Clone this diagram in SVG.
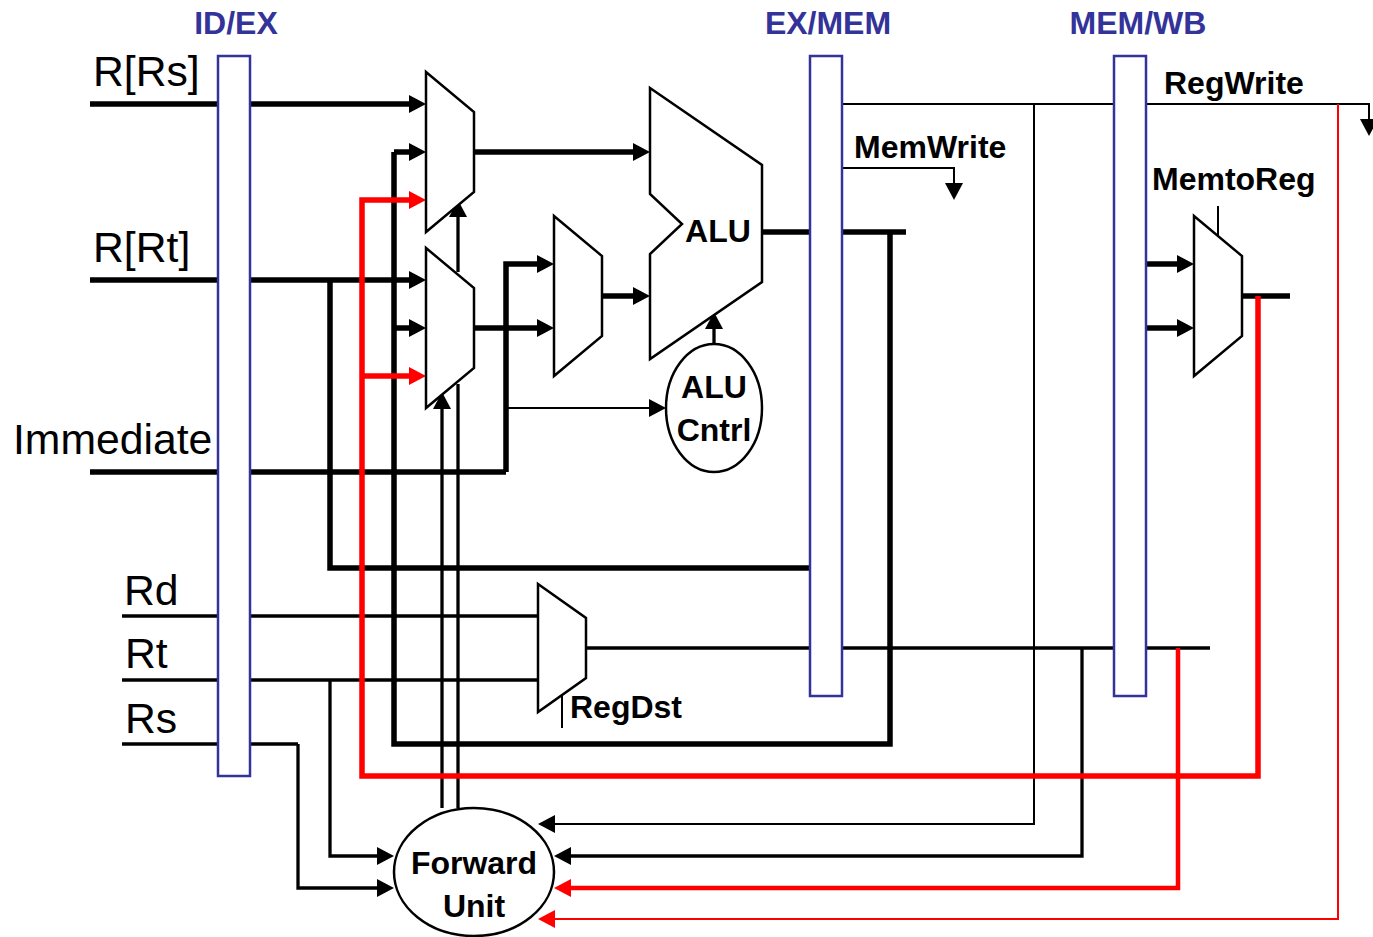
<svg xmlns="http://www.w3.org/2000/svg" width="1373" height="937" viewBox="0 0 1373 937">
<style>
text{font-family:"Liberation Sans",Arial,sans-serif}
.h{font-size:32px;font-weight:bold;fill:#333399;text-anchor:middle}
.l{font-size:42.7px;fill:#000}
.b{font-size:32px;font-weight:bold;fill:#000}
.c{text-anchor:middle}
.bar{fill:#fff;stroke:#333399;stroke-width:2.5}
.mux{fill:#fff;stroke:#000;stroke-width:2.5}
.w{fill:none;stroke:#000;stroke-linejoin:miter;stroke-linecap:butt}
.r{fill:none;stroke:#f00;stroke-linejoin:miter;stroke-linecap:butt}
.t5{stroke-width:5.5}
.t4{stroke-width:4.5}
.t3{stroke-width:3.3}
.t2{stroke-width:2}
.ak{marker-end:url(#ak)}
.ar{marker-end:url(#ar)}
</style>
<defs>
<marker id="ak" markerUnits="userSpaceOnUse" markerWidth="18" markerHeight="18" refX="6" refY="9" orient="auto"><path d="M0 0L17 9L0 18Z" fill="#000"/></marker>
<marker id="ar" markerUnits="userSpaceOnUse" markerWidth="18" markerHeight="18" refX="6" refY="9" orient="auto"><path d="M0 0L17 9L0 18Z" fill="#f00"/></marker>
</defs>
<g id="connectors">
<path class="w t5 ak" d="M90 104H415"/>
<path class="w t5" d="M90 280H330"/>
<path class="w t5 ak" d="M330 280H415"/>
<path class="w t5" d="M330 280V568H810"/>
<path class="w t5" d="M90 472H506"/>
<path class="w t5 ak" d="M506 472V264H543"/>
<path class="w t5 ak" d="M394 152H415"/>
<path class="w t5 ak" d="M394 328H415"/>
<path class="w t5" d="M394 152V744H890V232"/>
<path class="w t5 ak" d="M474 152H639"/>
<path class="w t5 ak" d="M474 328H543"/>
<path class="w t5 ak" d="M602 296H639"/>
<path class="w t5" d="M762 232H906"/>
<path class="w t3 ak" d="M458 272V211"/>
<path class="w t3 ak" d="M442 808V403"/>
<path class="w t3" d="M458 808V384"/>
<path class="w t2 ak" d="M508 408H655"/>
<path class="w t3 ak" d="M714 344V323"/>
<path class="w t3" d="M122 616H538"/>
<path class="w t3" d="M122 680H538"/>
<path class="w t3" d="M122 744H298"/>
<path class="w t3 ak" d="M298 744V888H383"/>
<path class="w t3 ak" d="M330 680V856H383"/>
<path class="w t3" d="M586 648H1210"/>
<path class="w t3 ak" d="M1082 648V856H565"/>
<path class="w t2 ak" d="M1034 104V824H549"/>
<path class="w t2 ak" d="M842 104H1369V125"/>
<path class="w t2 ak" d="M842 168H954V189"/>
<path class="w t2" d="M562 694V728"/>
<path class="w t2" d="M1218 206V236"/>
<path class="w t5 ak" d="M1146 264H1183"/>
<path class="w t5 ak" d="M1146 328H1183"/>
<path class="w t5" d="M1242 296H1290"/>
<path class="r t5 ar" d="M1258 296V776H362V200H415"/>
<path class="r t5 ar" d="M362 376H415"/>
<path class="r t4 ar" d="M1178 648V888H565"/>
<path class="r t2 ar" d="M1338 104V919H549"/>
</g>
<g id="id-ex"><rect class="bar" x="218" y="56" width="32" height="720"/><text class="h" x="236" y="34">ID/EX</text></g>
<g id="ex-mem"><rect class="bar" x="810" y="56" width="32" height="640"/><text class="h" x="828" y="34">EX/MEM</text></g>
<g id="mem-wb"><rect class="bar" x="1114" y="56" width="32" height="640"/><text class="h" x="1138" y="34">MEM/WB</text></g>
<g id="mux-a"><path class="mux" d="M426 72L474 112V192L426 232Z"/></g>
<g id="mux-b"><path class="mux" d="M426 248L474 288V368L426 408Z"/></g>
<g id="mux-c"><path class="mux" d="M554 216L602 256V336L554 376Z"/></g>
<g id="mux-regdst"><path class="mux" d="M538 584L586 618V678L538 712Z"/></g>
<g id="mux-memtoreg"><path class="mux" d="M1194 216L1242 256V336L1194 376Z"/></g>
<g id="alu"><path class="mux" d="M650 88L762 165V282L650 359V254L682 224L650 194Z"/><text class="b" x="718" y="242" text-anchor="middle">ALU</text></g>
<g id="alu-cntrl"><ellipse class="mux" cx="714" cy="408" rx="48" ry="64"/><text class="b c" x="714" y="398">ALU</text><text class="b c" x="714" y="441">Cntrl</text></g>
<g id="forward-unit"><ellipse class="mux" cx="474" cy="872" rx="80" ry="64"/><text class="b c" x="474" y="874">Forward</text><text class="b c" x="474" y="917">Unit</text></g>
<g id="labels">
<text class="l" x="93" y="86">R[Rs]</text>
<text class="l" x="93" y="262">R[Rt]</text>
<text class="l" x="13" y="454">Immediate</text>
<text class="l" x="124" y="605">Rd</text>
<text class="l" x="125" y="668">Rt</text>
<text class="l" x="125" y="733">Rs</text>
<text class="b" x="1164" y="94">RegWrite</text>
<text class="b" x="854" y="158">MemWrite</text>
<text class="b" x="1152" y="190">MemtoReg</text>
<text class="b" x="570" y="718">RegDst</text>
</g>
</svg>
